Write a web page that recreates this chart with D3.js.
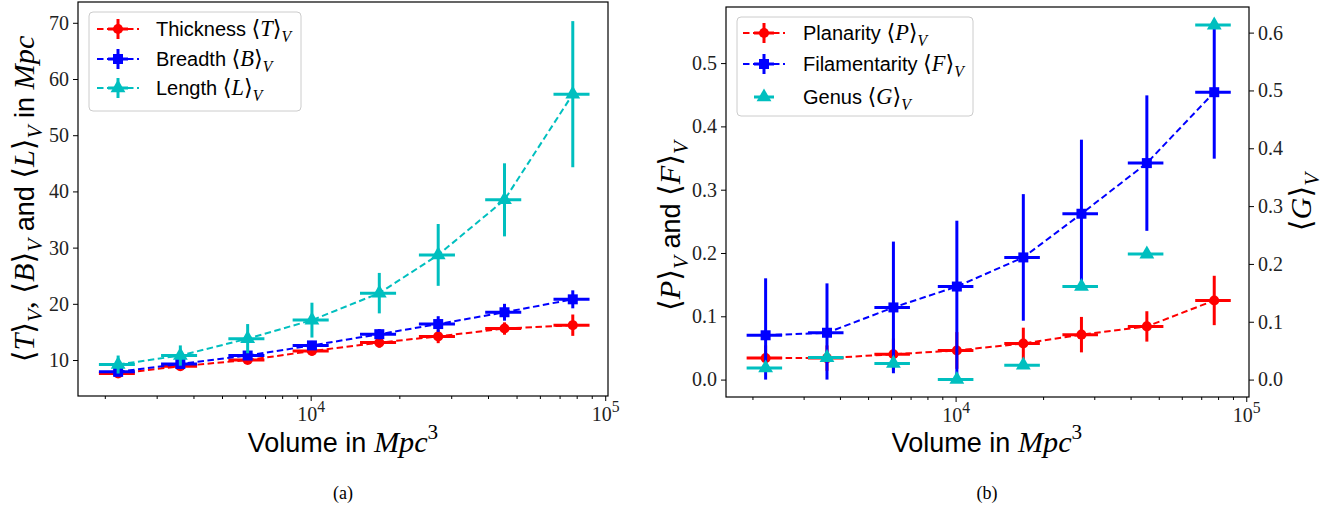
<!DOCTYPE html>
<html>
<head>
<meta charset="utf-8">
<script src="https://cdn.jsdelivr.net/npm/d3@7"></script>
<style>
  body { margin: 0; background: #fff; }
  .tick text { font-family: "Liberation Serif", "DejaVu Serif", serif !important; }
</style>
</head>
<body>
<svg width="1333" height="509"></svg>
<script>
// ---- data ----
const volumes = [2220, 3610, 6110, 10100, 17100, 27100, 45500, 77600];
const volumeErr = [310, 505, 855, 1415, 2395, 3795, 6370, 10860];

const thickness = [7.6, 8.9, 10.0, 11.6, 13.1, 14.2, 15.6, 16.2];
const thicknessErr = [0.5, 0.6, 0.7, 0.8, 0.9, 1.2, 1.1, 1.9];
const breadth = [7.9, 9.3, 10.8, 12.6, 14.6, 16.4, 18.5, 20.8];
const breadthErr = [0.5, 0.6, 0.7, 0.8, 0.9, 1.4, 1.5, 1.6];
const lengthV = [9.2, 10.8, 13.8, 17.1, 21.9, 28.7, 38.5, 57.3];
const lengthErr = [1.6, 1.8, 2.6, 3.1, 3.6, 5.5, 6.5, 13.0];

const planarity = [0.034, 0.034, 0.040, 0.046, 0.057, 0.071, 0.084, 0.125];
const planarityErr = [0.02, 0.02, 0.025, 0.029, 0.025, 0.028, 0.024, 0.039];
const filamentarity = [0.070, 0.074, 0.114, 0.147, 0.193, 0.262, 0.342, 0.454];
const filamentarityErrLo = [0.070, 0.074, 0.104, 0.147, 0.100, 0.117, 0.107, 0.105];
const filamentarityErrHi = [0.090, 0.078, 0.104, 0.104, 0.100, 0.117, 0.107, 0.105];
const genus = [0.020, 0.038, 0.028, 0.000, 0.025, 0.161, 0.217, 0.613];

const leftTicksA = [10, 20, 30, 40, 50, 60, 70];
const leftTicksB = [0.0, 0.1, 0.2, 0.3, 0.4, 0.5];
const rightTicksB = [0.0, 0.1, 0.2, 0.3, 0.4, 0.5, 0.6];
const xMajor = [1e4, 1e5];
const xMinor = [2e3, 3e3, 4e3, 5e3, 6e3, 7e3, 8e3, 9e3, 2e4, 3e4, 4e4, 5e4, 6e4, 7e4, 8e4, 9e4];

const RED = "#ff0000", BLUE = "#0000ff", CYAN = "#00bfbf";
const SANS = "'Liberation Sans', Arial, sans-serif";
const SERIF = "'Liberation Serif', 'DejaVu Serif', serif";

const svg = d3.select("svg");

// rich text: parts = [[text, kind]] kind: s sans, m math italic, r math roman, sub, sup
function rich(sel, parts, size) {
  const ms = size * 1.12;
  let shift = 0;
  parts.forEach(([t, k]) => {
    const ts = sel.append("tspan").text(t);
    let target = 0;
    if (k === "s") ts.style("font-family", SANS).attr("font-size", size);
    else if (k === "m") ts.style("font-family", SERIF).attr("font-style", "italic").attr("font-size", ms);
    else if (k === "r") ts.style("font-family", SERIF).attr("font-size", ms);
    else if (k === "n") ts.style("font-family", SERIF).attr("font-size", size);
    else if (k === "sub") { ts.style("font-family", SERIF).attr("font-style", "italic").attr("font-size", ms * 0.7); target = ms * 0.25; }
    else if (k === "sup") { ts.style("font-family", SERIF).attr("font-size", ms * 0.7); target = -ms * 0.42; }
    if (target !== shift) { ts.attr("dy", target - shift); shift = target; }
  });
}

const ang = (L) => [["\u27E8", "r"], [L, "m"], ["\u27E9", "r"], ["V", "sub"]];

function makePanel(box) {
  const x = d3.scaleLog().domain([1622, 102200]).range([box.x0, box.x1]);
  const g = svg.append("g");
  const xa = g.append("g").attr("transform", `translate(0,${box.y1})`)
    .call(d3.axisBottom(x).tickValues(xMajor).tickSize(5).tickPadding(4).tickFormat(""));
  xa.selectAll(".tick text").each(function (d) {
    const t = d3.select(this).attr("dy", null).attr("y", 25).attr("fill", "#222");
    rich(t, [["10", "n"], [String(Math.round(Math.log10(d))), "sup"]], 20);
  });
  g.append("g").attr("transform", `translate(0,${box.y1})`)
    .call(d3.axisBottom(x).tickValues(xMinor).tickSize(3).tickFormat(""));
  g.selectAll(".domain").remove();
  return { x, g };
}

function styleAxis(a) {
  a.attr("font-family", SERIF);
  a.selectAll(".domain").remove();
  a.selectAll(".tick line").attr("stroke", "#000").attr("stroke-width", 1);
  a.selectAll(".tick text").attr("font-family", SERIF).style("font-size", "20px").attr("fill", "#222");
}

function drawSeries(g, x, y, ys, lo, hi, color, marker, dashed) {
  const xs = volumes;
  g.selectAll(null).data(xs).enter().append("line")
    .attr("x1", (d, i) => x(d - volumeErr[i])).attr("x2", (d, i) => x(d + volumeErr[i]))
    .attr("y1", (d, i) => y(ys[i])).attr("y2", (d, i) => y(ys[i]))
    .attr("stroke", color).attr("stroke-width", 3);
  if (lo) {
    g.selectAll(null).data(xs).enter().append("line")
      .attr("x1", d => x(d)).attr("x2", d => x(d))
      .attr("y1", (d, i) => y(ys[i] - lo[i])).attr("y2", (d, i) => y(ys[i] + hi[i]))
      .attr("stroke", color).attr("stroke-width", 3);
  }
  if (dashed) {
    g.append("path").datum(xs)
      .attr("d", d3.line().x(d => x(d)).y((d, i) => y(ys[i])))
      .attr("fill", "none").attr("stroke", color).attr("stroke-width", 2)
      .attr("stroke-dasharray", "6.5,3.5");
  }
  g.selectAll(null).data(xs).enter().append("path")
    .attr("transform", (d, i) => `translate(${x(d)},${y(ys[i])})`)
    .attr("d", d3.symbol().type(marker.type).size(marker.size))
    .attr("fill", color);
}

const MK = {
  circle: { type: d3.symbolCircle, size: 80 },
  square: { type: d3.symbolSquare, size: 100 },
  tri: { type: d3.symbolTriangle, size: 95 }
};

function legend(box, items) {
  const g = svg.append("g");
  g.append("rect").attr("x", box.x).attr("y", box.y).attr("width", box.w).attr("height", box.h)
    .attr("rx", 4).attr("fill", "#fff").attr("fill-opacity", 0.8)
    .attr("stroke", "#cccccc").attr("stroke-width", 1);
  items.forEach((it, i) => {
    const cy = box.rows[i];
    const cx = box.hx;
    if (it.dashed) {
      g.append("line").attr("x1", cx - 21).attr("x2", cx + 21).attr("y1", cy).attr("y2", cy)
        .attr("stroke", it.color).attr("stroke-width", 2).attr("stroke-dasharray", "6.5,3.5");
      g.append("line").attr("x1", cx).attr("x2", cx).attr("y1", cy - 10).attr("y2", cy + 10)
        .attr("stroke", it.color).attr("stroke-width", 3);
    }
    g.append("line").attr("x1", cx - 10).attr("x2", cx + 10).attr("y1", cy).attr("y2", cy)
      .attr("stroke", it.color).attr("stroke-width", 3);
    g.append("path").attr("transform", `translate(${cx},${cy})`)
      .attr("d", d3.symbol().type(it.marker.type).size(it.marker.size)).attr("fill", it.color);
    const t = g.append("text").attr("x", box.tx).attr("y", cy + 7).attr("fill", "#000");
    rich(t, [[it.label + " ", "s"]].concat(ang(it.sym)), 20);
  });
}

// ================= panel (a) =================
const boxA = { x0: 78, x1: 608, y0: 2, y1: 396 };
const pA = makePanel(boxA);
const yA = d3.scaleLinear().domain([3.6, 73.7]).range([boxA.y1, boxA.y0]);
styleAxis(pA.g.append("g").attr("transform", `translate(${boxA.x0},0)`)
  .call(d3.axisLeft(yA).tickValues(leftTicksA).tickSize(5).tickPadding(4)));

const plotA = svg.append("g");
drawSeries(plotA, pA.x, yA, thickness, thicknessErr, thicknessErr, RED, MK.circle, true);
drawSeries(plotA, pA.x, yA, breadth, breadthErr, breadthErr, BLUE, MK.square, true);
drawSeries(plotA, pA.x, yA, lengthV, lengthErr, lengthErr, CYAN, MK.tri, true);

svg.append("rect").attr("x", boxA.x0).attr("y", boxA.y0)
  .attr("width", boxA.x1 - boxA.x0).attr("height", boxA.y1 - boxA.y0)
  .attr("fill", "none").attr("stroke", "#000").attr("stroke-width", 1.2);

legend({ x: 89, y: 12, w: 212, h: 99, rows: [29, 59, 88], hx: 118, tx: 156 }, [
  { label: "Thickness", sym: "T", color: RED, marker: MK.circle, dashed: true },
  { label: "Breadth", sym: "B", color: BLUE, marker: MK.square, dashed: true },
  { label: "Length", sym: "L", color: CYAN, marker: MK.tri, dashed: true }
]);

rich(svg.append("text").attr("transform", "translate(34,199) rotate(-90)").attr("text-anchor", "middle"),
  ang("T").concat([[", ", "r"]], ang("B"), [[" and ", "s"]], ang("L"), [[" in ", "s"], ["Mpc", "m"]]), 27);

// ================= panel (b) =================
const boxB = { x0: 726, x1: 1249, y0: 7, y1: 397 };
const pB = makePanel(boxB);
const yB = d3.scaleLinear().domain([-0.0275, 0.5886]).range([boxB.y1, boxB.y0]);
const yG = d3.scaleLinear().domain([-0.0301, 0.6443]).range([boxB.y1, boxB.y0]);
styleAxis(pB.g.append("g").attr("transform", `translate(${boxB.x0},0)`)
  .call(d3.axisLeft(yB).tickValues(leftTicksB).tickSize(5).tickPadding(4).tickFormat(d3.format(".1f"))));
styleAxis(pB.g.append("g").attr("transform", `translate(${boxB.x1},0)`)
  .call(d3.axisRight(yG).tickValues(rightTicksB).tickSize(5).tickPadding(4).tickFormat(d3.format(".1f"))));

const plotB = svg.append("g");
drawSeries(plotB, pB.x, yB, planarity, planarityErr, planarityErr, RED, MK.circle, true);
drawSeries(plotB, pB.x, yB, filamentarity, filamentarityErrLo, filamentarityErrHi, BLUE, MK.square, true);
drawSeries(plotB, pB.x, yG, genus, null, null, CYAN, MK.tri, false);

svg.append("rect").attr("x", boxB.x0).attr("y", boxB.y0)
  .attr("width", boxB.x1 - boxB.x0).attr("height", boxB.y1 - boxB.y0)
  .attr("fill", "none").attr("stroke", "#000").attr("stroke-width", 1.2);

legend({ x: 737, y: 17, w: 236, h: 99, rows: [33, 64, 97], hx: 764, tx: 803 }, [
  { label: "Planarity", sym: "P", color: RED, marker: MK.circle, dashed: true },
  { label: "Filamentarity", sym: "F", color: BLUE, marker: MK.square, dashed: true },
  { label: "Genus", sym: "G", color: CYAN, marker: MK.tri, dashed: false }
]);

rich(svg.append("text").attr("transform", "translate(680,226) rotate(-90)").attr("text-anchor", "middle"),
  ang("P").concat([[" and ", "s"]], ang("F")), 27);
rich(svg.append("text").attr("transform", "translate(1311,202) rotate(-90)").attr("text-anchor", "middle"),
  ang("G"), 27);

// x labels and captions
[[343, "(a)"], [987, "(b)"]].forEach(([cx, cap]) => {
  rich(svg.append("text").attr("x", cx).attr("y", 452).attr("text-anchor", "middle"),
    [["Volume in ", "s"], ["Mpc", "m"], ["3", "sup"]], 27);
  svg.append("text").attr("x", cx).attr("y", 499).attr("text-anchor", "middle")
    .style("font-family", SERIF).attr("font-size", 18).text(cap);
});
</script>
</body>
</html>
